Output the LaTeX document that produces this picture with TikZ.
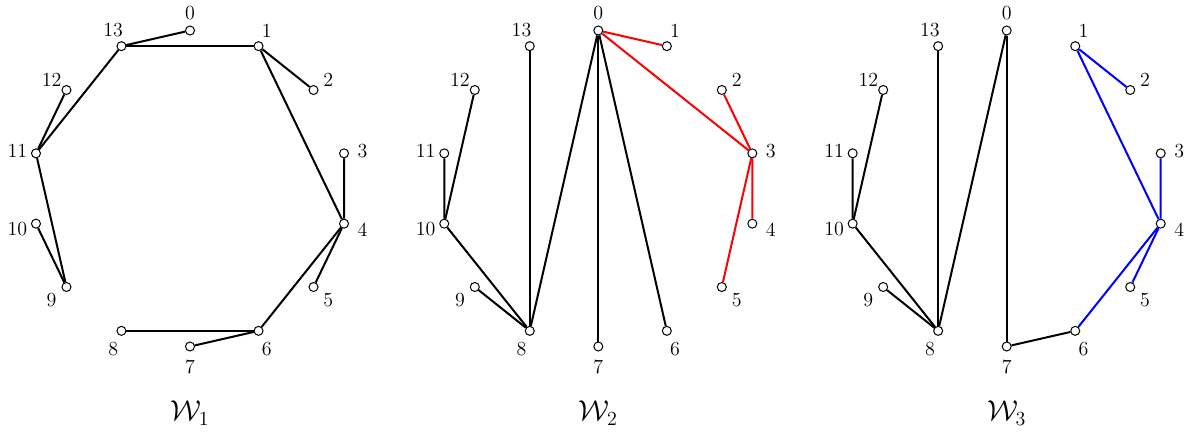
\documentclass[tikz,border=0pt]{standalone}
\begin{document}
\begin{tikzpicture}[x=0.6pt,y=-0.6pt,
  vtx/.style={circle,draw,fill=white,line width=0.6pt,inner sep=0pt,minimum size=5.4pt},
  lbl/.style={font=\large,inner sep=0pt},
  edge/.style={line width=1.2pt},
  rededge/.style={edge,red},
  blueedge/.style={edge,blue},
  ttl/.style={font=\LARGE,inner sep=0pt}]
\useasboundingbox (0,0) rectangle (1192,434);
\foreach \g/\cx in {a/190,b/598.3,c/1006.7}{
  \foreach \k in {0,...,13}{
    \pgfmathsetmacro\ang{90-\k*360/14}
    \node[vtx] (\g\k) at ({\cx+158*cos(\ang)},{188.5-158*sin(\ang)}) {};
    \node[lbl] (\g l\k) at ({\cx+177*cos(\ang)},{190-177*sin(\ang)}) {\k};
  }
}
% W1
\foreach \u/\v in {0/13,13/1,1/2,1/4,4/3,4/5,4/6,6/8,6/7,13/11,11/12,11/9,9/10}
  \draw[edge] (a\u) -- (a\v);
% W2
\foreach \u/\v in {0/8,0/7,0/6,8/13,8/10,8/9,10/11,10/12}
  \draw[edge] (b\u) -- (b\v);
\foreach \u/\v in {0/1,0/3,3/2,3/4,3/5}
  \draw[rededge] (b\u) -- (b\v);
% W3
\foreach \u/\v in {0/8,0/7,7/6,8/13,8/10,8/9,10/11,10/12}
  \draw[edge] (c\u) -- (c\v);
\foreach \u/\v in {6/4,4/1,4/3,4/5,1/2}
  \draw[blueedge] (c\u) -- (c\v);
\node[ttl] (t1) at (190,413) {$\mathcal{W}_1$};
\node[ttl] (t2) at (598.3,413) {$\mathcal{W}_2$};
\node[ttl] (t3) at (1006.7,413) {$\mathcal{W}_3$};
\end{tikzpicture}
\end{document}
